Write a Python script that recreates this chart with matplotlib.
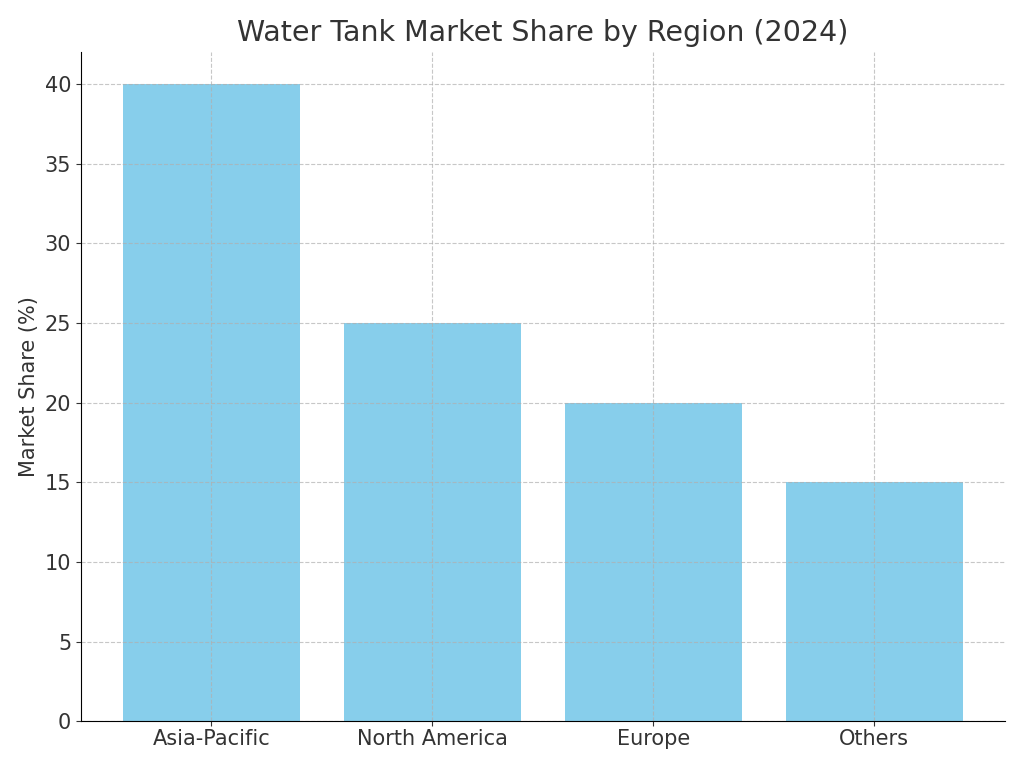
import matplotlib
matplotlib.use("Agg")
import matplotlib.pyplot as plt

regions = ['Asia-Pacific', 'North America', 'Europe', 'Others']
shares = [40, 25, 20, 15]

fig = plt.figure(figsize=(10.24, 7.68), dpi=100)
ax = fig.add_axes([0.079, 0.061, 0.902, 0.871])

ax.bar(regions, shares, color='skyblue', width=0.8)
ax.set_ylim(0, 42)
ax.set_title('Water Tank Market Share by Region (2024)', fontsize=20.5, color='#333333', pad=8)
ax.set_ylabel('Market Share (%)', fontsize=15, color='#333333')
ax.tick_params(labelsize=15, colors='#333333')
ax.tick_params(axis='x', pad=2)
ax.grid(True, linestyle='--', color='#b0b0b0', alpha=0.7, linewidth=0.8)
ax.spines['top'].set_visible(False)
ax.spines['right'].set_visible(False)

fig.savefig('out.png', dpi=100)
